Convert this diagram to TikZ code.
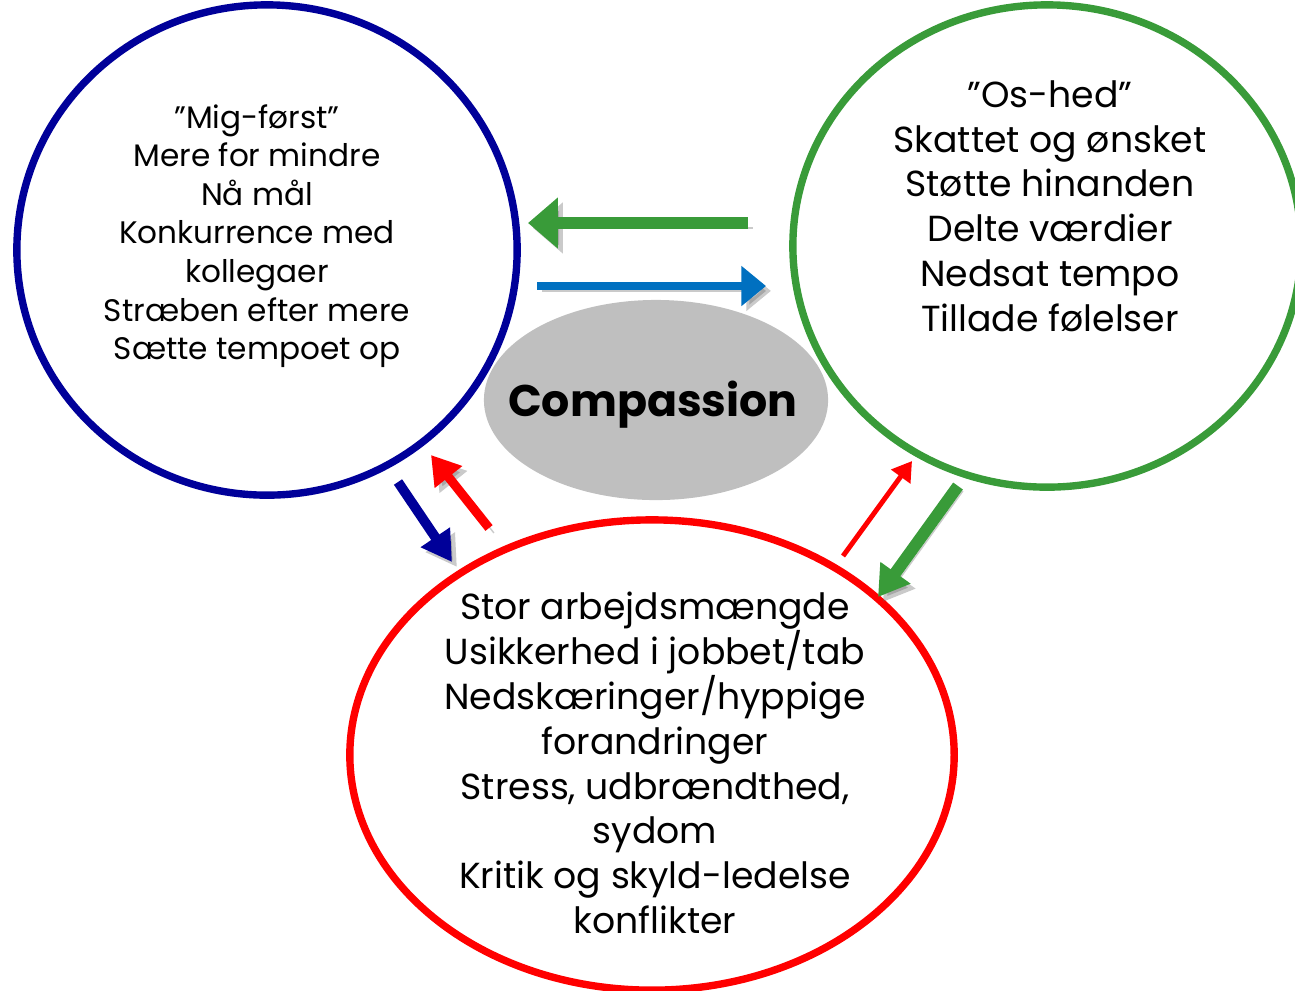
\documentclass[tikz,border=0pt]{standalone}
\usepackage{fontspec}
\setmainfont{Poppins}
\usetikzlibrary{arrows.meta,shapes.geometric}

\definecolor{navyring}{HTML}{000099}
\definecolor{greenring}{HTML}{399B39}
\definecolor{bluearrow}{HTML}{0070C0}
\definecolor{grayblob}{HTML}{BFBFBF}

\tikzset{
    ring/.style={ellipse, line width=2.1pt, inner sep=0pt},
    shade/.style={preaction={draw=black!60, opacity=0.35, transform canvas={shift={(1.4pt,-1.4pt)}}}},
    leftlines/.style={align=center, font=\fontsize{8.85}{10.98}\selectfont},
    biglines/.style={align=center, font=\fontsize{10.3}{12.75}\selectfont}
}

\begin{document}
\begin{tikzpicture}[x=0.01cm, y=-0.01cm]
    \useasboundingbox (0,0) rectangle (1295,990);

    % rings and the grey middle
    \node[ring, fill=grayblob, minimum width=3.44cm, minimum height=2.0cm] (comp) at (656,400) {};
    \node[ring, draw=navyring, minimum width=5.0cm, minimum height=4.9cm] (mig) at (267,250) {};
    \node[ring, draw=greenring, minimum width=5.08cm, minimum height=4.82cm] (os) at (1047,246) {};
    \node[ring, draw=red, minimum width=6.04cm, minimum height=4.7cm] (stress) at (652,755) {};

    \node[font=\fontsize{12.6}{15}\selectfont\bfseries] (comptext) at (653,405) {Compassion};

    \node[leftlines] (migtext) at (257,236) {”Mig-først”\\Mere for mindre\\Nå mål\\Konkurrence med\\kollegaer\\Stræben efter mere\\Sætte tempoet op};
    \node[biglines] (ostext) at (1050,206) {”Os-hed”\\Skattet og ønsket\\Støtte hinanden\\Delte værdier\\Nedsat tempo\\Tillade følelser};
    \node[biglines] (stresstext) at (655,763) {Stor arbejdsmængde\\Usikkerhed i jobbet/tab\\Nedskæringer/hyppige\\forandringer\\Stress, udbrændthed,\\sydom\\Kritik og skyld-ledelse\\konflikter};

    % arrow ends
    \coordinate (gla) at (748,223);
    \coordinate (glb) at (528,223);
    \coordinate (bra) at (537,286);
    \coordinate (brb) at (766,286);
    \coordinate (nda) at (398,482);
    \coordinate (ndb) at (452,562);
    \coordinate (rua) at (489,528);
    \coordinate (rub) at (431,455);
    \coordinate (rta) at (843,556);
    \coordinate (rtb) at (912,461);
    \coordinate (gda) at (958,486);
    \coordinate (gdb) at (878,597);

    \draw[shade, greenring, line width=3.4pt, -{Triangle[length=8.5pt,width=14pt]}] (gla) -- (glb);
    \draw[shade, bluearrow, line width=2.3pt, -{Triangle[length=7pt,width=11pt]}] (bra) -- (brb);
    \draw[shade, navyring, line width=2.8pt, -{Triangle[length=8.5pt,width=9.5pt]}] (nda) -- (ndb);
    \draw[shade, red, line width=2.6pt, -{Triangle[length=8pt,width=9.5pt]}] (rua) -- (rub);
    \draw[red, line width=1.4pt, -{Triangle[length=5.5pt,width=6.5pt]}] (rta) -- (rtb);
    \draw[shade, greenring, line width=3.4pt, -{Triangle[length=8.5pt,width=10pt]}] (gda) -- (gdb);
\end{tikzpicture}
\end{document}
